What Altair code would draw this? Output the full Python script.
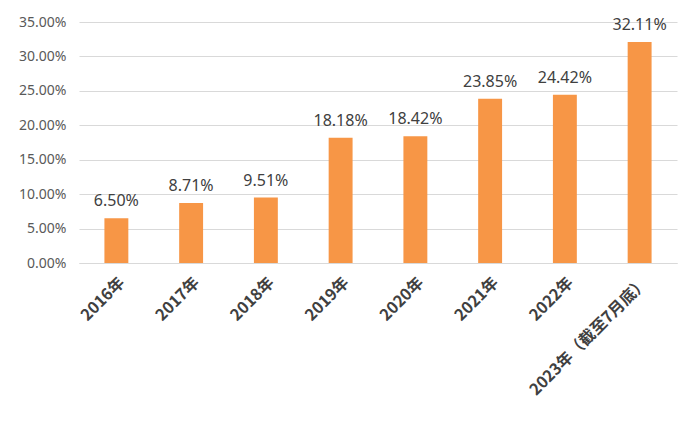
import altair as alt
import pandas as pd

categories = ["2016年", "2017年", "2018年", "2019年", "2020年", "2021年", "2022年", "2023年（截至7月底）"]
values = [0.0650, 0.0871, 0.0951, 0.1818, 0.1842, 0.2385, 0.2442, 0.3211]
y_ticks = [0.0, 0.05, 0.10, 0.15, 0.20, 0.25, 0.30, 0.35]

df = pd.DataFrame({"cat": categories, "val": values})

base = alt.Chart(df).encode(
    x=alt.X("cat:N", sort=categories, title=None,
            scale=alt.Scale(paddingInner=0.68, paddingOuter=0.34),
            axis=alt.Axis(labelAngle=-45, labelFont="Noto Sans CJK SC", labelFontWeight="bold",
                          labelFontSize=16, labelColor="#404040", ticks=False, domainColor="#D9D9D9",
                          labelPadding=11, labelLimit=300, labelOverlap=False)),
    y=alt.Y("val:Q", title=None, scale=alt.Scale(domain=[0, 0.35], nice=False),
            axis=alt.Axis(values=y_ticks, format=".2%", labelFont="Noto Sans", labelFontSize=14,
                          labelColor="#595959", ticks=False, domain=False, gridColor="#D9D9D9",
                          labelPadding=13)),
)

bars = base.mark_bar(color="#F79646")
text = base.mark_text(baseline="bottom", dy=-9, font="Noto Sans", fontSize=16, color="#404040").encode(
    text=alt.Text("val:Q", format=".2%"))

chart = (bars + text).properties(
    width=598, height=241,
    autosize=alt.AutoSizeParams(type="none"),
    padding={"left": 71, "top": 14, "right": 15, "bottom": 155},
    background="white",
).configure_view(stroke=None)

chart.save("out.html", embed_options={"renderer": "svg", "actions": False})
